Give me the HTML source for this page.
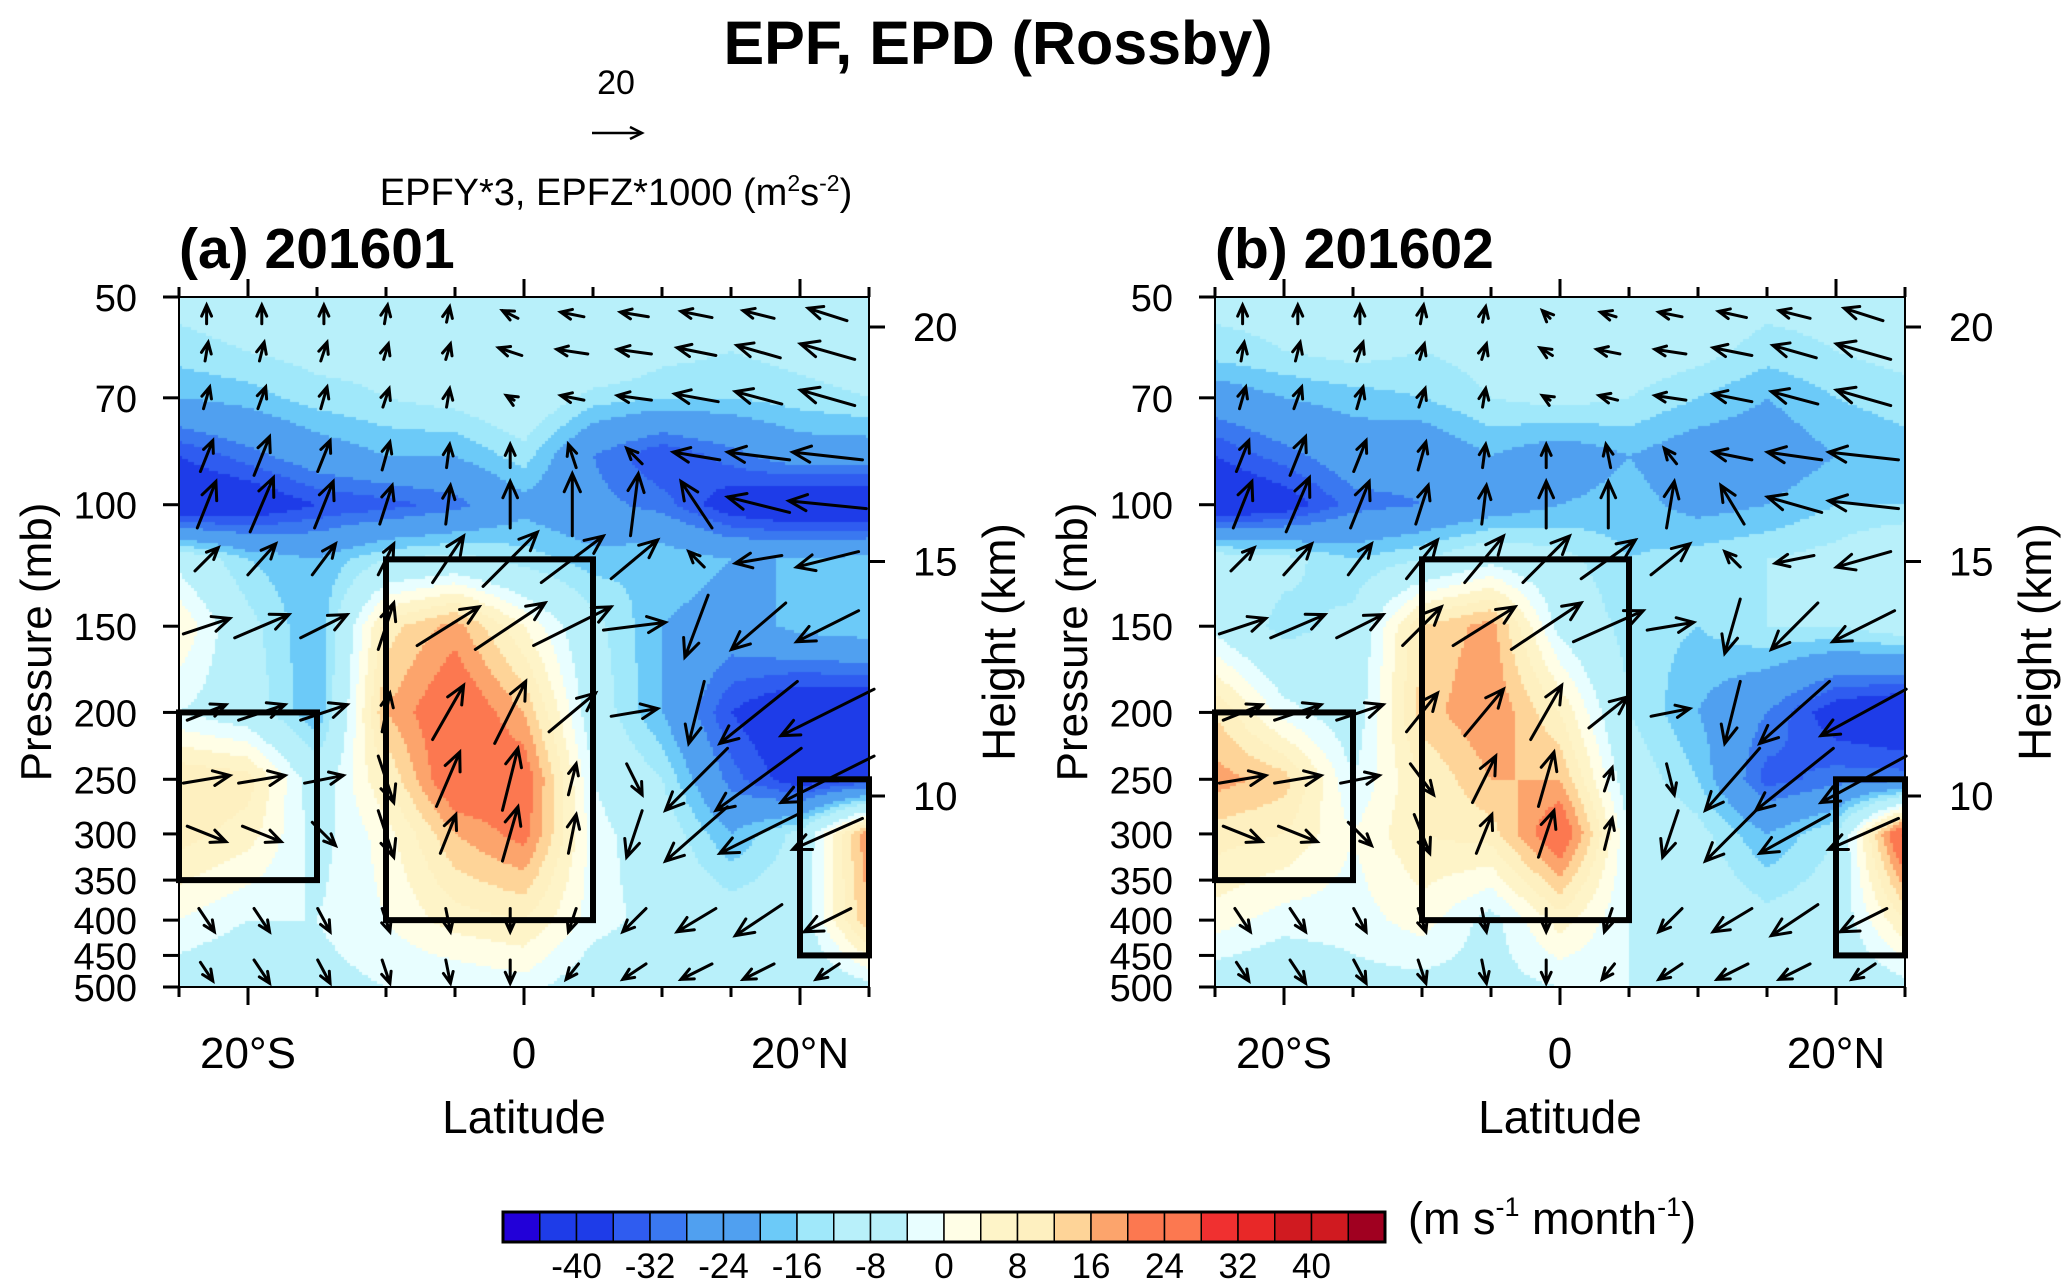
<!DOCTYPE html>
<html><head><meta charset="utf-8"><style>
html,body{margin:0;padding:0;background:#fff;}
#wrap{position:relative;width:2067px;height:1287px;overflow:hidden;font-family:"Liberation Sans",Arial,sans-serif;}
canvas{position:absolute;left:0;top:0;}
svg{position:absolute;left:0;top:0;}
</style></head><body>
<div id="wrap">
<canvas id="cv" width="2067" height="1287"></canvas>
<svg id="sv" width="2067" height="1287" xmlns="http://www.w3.org/2000/svg">
<text x="998" y="64" font-size="61" font-weight="bold" text-anchor="middle">EPF, EPD (Rossby)</text>
<text x="616" y="94" font-size="34" text-anchor="middle">20</text>
<g stroke="#000" stroke-width="2.5" fill="none"><line x1="592" y1="133" x2="641" y2="133"/><polyline points="630,127 642,133 630,139"/></g>
<text x="616" y="205" font-size="38" text-anchor="middle">EPFY*3, EPFZ*1000 (m<tspan font-size="23" dy="-14">2</tspan><tspan dy="14">s</tspan><tspan font-size="23" dy="-14">-2</tspan><tspan dy="14">)</tspan></text>
<text x="179" y="268" font-size="57" font-weight="bold">(a) 201601</text>
<text x="1215" y="268" font-size="57" font-weight="bold">(b) 201602</text>
<text x="1408" y="1234" font-size="45">(m s<tspan font-size="27" dy="-18">-1</tspan><tspan dy="18"> month</tspan><tspan font-size="27" dy="-18">-1</tspan><tspan dy="18">)</tspan></text>
</svg>
</div>
<script>
const lats=[-25,-20,-15,-10,-5,0,5,10,15,20,25];
const levels=[50,60,70,85,100,120,150,200,250,300,400,500];
const fieldA=[
[-10,-8,-8,-10,-8,-4,-10,-10,-8,-6,-10],
[-14,-12,-10,-10,-8,-4,-4,-10,-12,-10,-8],
[-20,-18,-14,-12,-10,-6,-14,-16,-16,-14,-12],
[-36,-30,-24,-20,-20,-14,-28,-36,-30,-24,-24],
[-44,-42,-36,-34,-30,-22,-26,-30,-40,-44,-44],
[-6,-16,-20,-12,-10,-14,-18,-16,-20,-20,-18],
[4,-10,-20,10,18,4,-10,-20,-24,-18,-16],
[-4,-8,-20,16,26,16,-8,-20,-36,-44,-44],
[12,10,-8,8,26,24,-4,-12,-30,-40,-36],
[10,6,-6,2,16,22,-2,-8,-20,-10,20],
[0,-4,-4,0,6,8,-2,-6,-8,-8,16],
[-8,-10,-6,-4,-4,-2,-8,-10,-6,-10,-6]];
const fieldB=[
[-10,-10,-8,-8,-10,-12,-10,-8,-10,-10,-10],
[-14,-12,-10,-12,-10,-8,-8,-10,-14,-12,-10],
[-24,-20,-18,-16,-12,-10,-12,-16,-20,-16,-14],
[-36,-30,-24,-26,-20,-24,-20,-24,-24,-20,-18],
[-44,-40,-30,-28,-24,-20,-18,-22,-20,-16,-16],
[-8,-10,-16,-12,-6,-10,-16,-14,-12,-10,-4],
[-6,-14,-10,12,18,-6,-14,-16,-12,-12,-8],
[12,-2,-8,14,20,8,-12,-20,-28,-40,-44],
[18,14,-4,8,16,16,-8,-16,-34,-30,-30],
[10,8,0,8,10,26,-4,-10,-20,-12,30],
[2,-2,-2,2,-6,6,-4,-6,-10,-8,8],
[-8,-10,-6,-6,-6,-4,-4,-4,-8,-10,-6]];
const uA=[
[0,0,0,2,2,-10,-15,-18,-20,-20,-25],
[2,3,4,3,3,-15,-20,-22,-25,-28,-35],
[4,5,4,4,2,-5,-15,-22,-28,-30,-35],
[8,10,8,5,2,0,-5,-10,-30,-40,-45],
[12,15,12,8,3,0,0,5,-20,-40,-50],
[15,18,15,10,20,35,40,30,-10,-30,-40],
[30,35,30,10,40,45,50,40,-15,-35,-40],
[25,30,30,5,20,20,30,30,-10,-50,-60],
[30,30,25,10,15,10,5,10,-40,-55,-60],
[25,25,15,10,10,10,5,-10,-40,-50,-45],
[10,10,8,5,3,0,-5,-15,-25,-30,-30],
[8,10,8,5,3,0,-8,-15,-20,-20,-15]];
const vA=[
[12,12,12,12,10,5,3,3,4,5,8],
[12,12,12,10,10,5,3,3,5,8,10],
[14,14,14,12,12,3,3,3,5,8,10],
[20,25,20,18,15,15,15,10,5,5,5],
[30,35,30,25,25,30,40,40,30,10,5],
[15,20,20,20,30,35,30,25,10,-5,-10],
[10,15,15,30,25,30,25,5,-40,-30,-20],
[10,10,10,25,35,40,25,5,-40,-40,-30],
[5,5,5,-30,35,40,20,-20,-40,-40,-30],
[-10,-10,-15,-30,25,35,25,-30,-35,-25,-20],
[-15,-15,-15,-15,-15,-15,-15,-15,-15,-20,-15],
[-12,-15,-15,-15,-15,-15,-10,-10,-10,-10,-10]];
const uB=[
[0,0,0,2,2,-5,-10,-15,-18,-20,-25],
[2,3,4,3,3,-8,-15,-20,-25,-28,-35],
[4,5,4,4,2,-5,-12,-20,-25,-30,-35],
[8,10,8,5,2,0,-3,-8,-25,-35,-45],
[12,15,12,8,3,0,0,5,-15,-35,-45],
[15,18,15,20,25,30,35,25,-10,-25,-35],
[30,35,30,25,40,45,45,30,-10,-30,-40],
[25,30,30,20,25,20,25,25,-10,-45,-55],
[30,30,25,15,15,10,5,5,-35,-50,-55],
[25,25,15,10,10,10,5,-10,-35,-45,-45],
[10,10,8,5,3,0,-5,-15,-25,-30,-30],
[8,10,8,5,3,0,-8,-15,-20,-20,-15]];
const vB=[
[12,12,12,12,10,5,3,3,4,5,8],
[12,12,12,10,10,5,3,3,5,8,10],
[14,14,14,12,12,3,3,3,5,8,10],
[20,25,20,18,15,15,15,10,5,5,5],
[30,35,30,25,25,30,30,30,25,10,5],
[15,20,20,25,30,30,25,20,10,-5,-10],
[10,15,15,25,25,30,20,5,-35,-30,-20],
[10,10,10,25,30,35,20,5,-40,-40,-30],
[5,5,5,-20,30,35,15,-20,-40,-40,-30],
[-10,-10,-15,-25,25,30,20,-30,-35,-25,-20],
[-15,-15,-15,-15,-15,-15,-15,-15,-15,-20,-15],
[-12,-15,-15,-15,-15,-15,-10,-10,-10,-10,-10]];
const cbColors=["#2200d8","#1e3ce8","#1e3ce8","#2f5cf0","#3a78f0","#50a0f0","#50a0f0","#6ccaf8","#a0e8fa","#b8f0fa","#b8f0fa","#e8feff","#fffee6","#fef4c8","#fef0c0","#fed498","#fca46c","#fc7850","#fc7850","#f03030","#e82828","#d01a20","#d01a20","#a00020"];
const cbLabels=[-40,-32,-24,-16,-8,0,8,16,24,32,40];
const pTicks=[50,70,100,150,200,250,300,350,400,450,500];
const hTicks=[10,15,20];
const latTicks=[[-20,"20°S"],[0,"0"],[20,"20°N"]];

const Y0=297,Y1=987,W=690;
const L50=Math.log10(50),L500=Math.log10(500);
function yOfP(p){return Y0+(Math.log10(p)-L50)/(L500-L50)*(Y1-Y0);}
function yOfH(h){return 796-(h-10)*46.9;}
function xOfLat(x0,lat){return x0+(lat+25)/50*W;}
function colorOf(v){let i=Math.floor((v+48)/4);i=Math.max(0,Math.min(23,i));return cbColors[i];}
function sample(f,lat,lp){
  let i=(lat+25)/5;i=Math.max(0,Math.min(9.9999,i));const i0=Math.floor(i),fi=i-i0;
  let j=0;const ll=levels.map(Math.log10);
  while(j<levels.length-2&&lp>ll[j+1])j++;
  let fj=(lp-ll[j])/(ll[j+1]-ll[j]);fj=Math.max(0,Math.min(1,fj));
  const a=f[j][i0]*(1-fi)+f[j][i0+1]*fi,b=f[j+1][i0]*(1-fi)+f[j+1][i0+1]*fi;
  return a*(1-fj)+b*fj;
}
const ctx=document.getElementById('cv').getContext('2d');
function fillPanel(x0,f){
  const st=3;
  for(let py=Y0;py<Y1;py+=st){
    const lp=L50+(py+st/2-Y0)/(Y1-Y0)*(L500-L50);
    for(let px=x0;px<x0+W;px+=st){
      const lat=(px+st/2-x0)/W*50-25;
      ctx.fillStyle=colorOf(sample(f,lat,lp));
      ctx.fillRect(px,py,st,st);
    }
  }
}
fillPanel(179,fieldA);fillPanel(1215,fieldB);
const NS="http://www.w3.org/2000/svg";
const sv=document.getElementById('sv');
function el(tag,attrs,parent){const e=document.createElementNS(NS,tag);for(const k in attrs)e.setAttribute(k,attrs[k]);(parent||sv).appendChild(e);return e;}
function drawPanel(x0,U,V,tag){
  const g=el('g',{});
  
  
  const ag=el('g',{stroke:'#000','stroke-width':3,fill:'none','stroke-linecap':'round'},g);
  
  
  const plats=[-23,-19,-14.5,-10,-5.5,-1,3.5,8,12.5,17,22];
  for(let j=0;j<levels.length;j++){
    for(let i=0;i<lats.length;i++){
      const cx=xOfLat(x0,plats[i]),cy=yOfP(j==0?53:(j==11?475:levels[j]));
      const dx=U[j][i]*1.55,dy=-V[j][i]*1.55;
      const len=Math.hypot(dx,dy);if(len<1)continue;
      const x1=cx-dx/2,y1=cy-dy/2,x2=cx+dx/2,y2=cy+dy/2;
      const ux=dx/len,uy=dy/len,h=Math.min(18,Math.max(11,len*0.35));
      const a=el('path',{d:`M${x1},${y1}L${x2},${y2}M${x2-h*ux-h*0.45*uy},${y2-h*uy+h*0.45*ux}L${x2},${y2}L${x2-h*ux+h*0.45*uy},${y2-h*uy-h*0.45*ux}`},ag);
      
      
    }
  }
  const boxes=[[-25,-15,200,350],[-10,5,120,400],[20,25,250,450]];
  boxes.forEach(b=>{
    const r=el('rect',{x:xOfLat(x0,b[0]),y:yOfP(b[2]),width:xOfLat(x0,b[1])-xOfLat(x0,b[0]),height:yOfP(b[3])-yOfP(b[2]),fill:'none',stroke:'#000','stroke-width':6},g);
    
    
  });
  const fr=el('rect',{x:x0,y:Y0,width:W,height:Y1-Y0,fill:'none',stroke:'#000','stroke-width':2},g);
  
  
  pTicks.forEach(p=>{
    const y=yOfP(p);
    el('line',{x1:x0-16,x2:x0,y1:y,y2:y,stroke:'#000','stroke-width':3},g);
    const t=el('text',{x:x0-42,y:y+14,'font-size':38,'text-anchor':'end'},g);t.textContent=p;
    
    
  });
  hTicks.forEach(h=>{
    const y=yOfH(h);
    el('line',{x1:x0+W,x2:x0+W+16,y1:y,y2:y,stroke:'#000','stroke-width':3},g);
    const t=el('text',{x:x0+W+44,y:y+14,'font-size':40},g);t.textContent=h;
    
    
  });
  for(let lat=-25;lat<=25;lat+=5){
    const x=xOfLat(x0,lat),maj=(lat%20===0);
    el('line',{x1:x,x2:x,y1:Y1,y2:Y1+(maj?18:10),stroke:'#000','stroke-width':3},g);
    el('line',{x1:x,x2:x,y1:Y0,y2:Y0-(maj?18:10),stroke:'#000','stroke-width':3},g);
  }
  latTicks.forEach(([lat,s])=>{
    const t=el('text',{x:xOfLat(x0,lat),y:1068,'font-size':44,'text-anchor':'middle'},g);t.textContent=s;
    
    
  });
  const xt=el('text',{x:x0+W/2,y:1133,'font-size':46,'text-anchor':'middle'},g);xt.textContent='Latitude';
  
  
  const yt=el('text',{x:0,y:0,'font-size':44,'text-anchor':'middle',transform:`translate(${x0-128},642) rotate(-90)`},g);yt.textContent='Pressure (mb)';
  
  
  const ht=el('text',{x:0,y:0,'font-size':46,'text-anchor':'middle',transform:`translate(${x0+W+146},642) rotate(-90)`},g);ht.textContent='Height (km)';
  
  
}
drawPanel(179,uA,vA,'panel-a');
drawPanel(1215,uB,vB,'panel-b');
const cb=el('g',{});


const cbx0=503,cbx1=1385,cby=1212,cbh=30,cw=(cbx1-cbx0)/cbColors.length;
cbColors.forEach((c,i)=>{
  const r=el('rect',{x:cbx0+i*cw,y:cby,width:cw,height:cbh,fill:c,stroke:'#000','stroke-width':1.5},cb);
  
  
});
el('rect',{x:cbx0,y:cby,width:cbx1-cbx0,height:cbh,fill:'none',stroke:'#000','stroke-width':3},cb);
cbLabels.forEach(v=>{
  const x=cbx0+(v+48)/4*cw;
  const t=el('text',{x:x,y:1278,'font-size':35,'text-anchor':'middle'},cb);t.textContent=v;
  
  
});
</script>
</body></html>
